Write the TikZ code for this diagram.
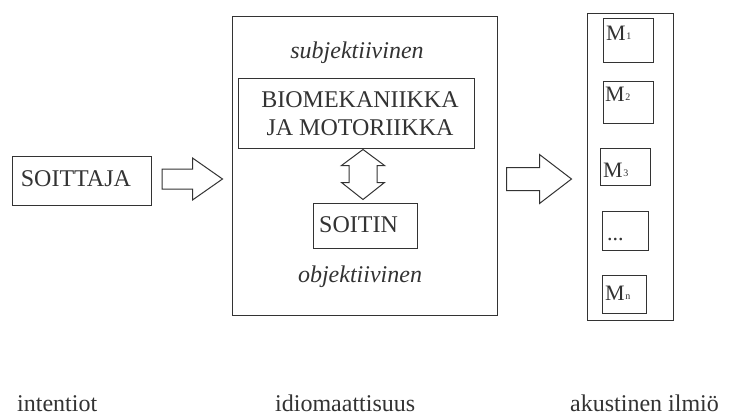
\documentclass[tikz,border=0pt]{standalone}
\usepackage{fontspec}
\setmainfont{Liberation Serif}
\usetikzlibrary{calc}
\definecolor{ink}{gray}{0.2}
\begin{document}
\begin{tikzpicture}[x=1pt,y=-1pt,
  frame/.style={draw=ink, line width=1pt, inner sep=0pt, rectangle},
  txt/.style={text=ink, inner sep=0pt, font=\fontsize{24}{28.5}\selectfont},
  itxt/.style={text=ink, inner sep=0pt, font=\fontsize{24}{28.5}\selectfont\itshape},
  mtxt/.style={text=ink, inner sep=0pt, font=\fontsize{22}{26}\selectfont, anchor=base west},
  blk/.style={draw=ink, line width=1pt, fill=white, line join=miter}]
\useasboundingbox (0,0) rectangle (732,418);
\fill[white] (0,0) rectangle (732,418);

% left
\node[frame, minimum width=139pt, minimum height=49pt] (soittaja) at (82.2,180.5) {};
\node[txt, anchor=base west] (soittajat) at (20.7,186) {SOITTAJA};

% middle
\node[frame, minimum width=265pt, minimum height=299pt] (idiom) at (364.5,165.5) {};
\node[itxt, anchor=base] (subj) at (357,58) {subjektiivinen};
\node[frame, minimum width=236pt, minimum height=70pt] (bio) at (356,113) {};
\node[txt, align=center, anchor=center] (biot) at (360,113.5) {BIOMEKANIIKKA\\JA MOTORIIKKA};
\node[frame, minimum width=104pt, minimum height=45pt] (soitin) at (365,225.5) {};
\node[txt, anchor=base west] (soitint) at (319,232) {SOITIN};
\node[itxt, anchor=base] (obj) at (360,282) {objektiivinen};

% right
\node[frame, minimum width=86pt, minimum height=307pt] (akust) at (630,166.5) {};
\node[frame, minimum width=50pt, minimum height=44pt] (m1) at (628,40) {};
\node[frame, minimum width=50pt, minimum height=42pt] (m2) at (628,102) {};
\node[frame, minimum width=50pt, minimum height=37pt] (m3) at (625,166.5) {};
\node[frame, minimum width=46pt, minimum height=39pt] (mdots) at (625,230.5) {};
\node[frame, minimum width=44pt, minimum height=38pt] (mn) at (624,294) {};
\node[mtxt] (m1t) at (606,40) {M\kern0.5pt\raisebox{1pt}{\fontsize{10}{10}\selectfont 1}};
\node[mtxt] (m2t) at (605,101) {M\kern0.5pt\raisebox{1pt}{\fontsize{10}{10}\selectfont 2}};
\node[mtxt] (m3t) at (603,177) {M\kern0.5pt\raisebox{1pt}{\fontsize{10}{10}\selectfont 3}};
\node[mtxt] (mdotst) at (607,240) {...};
\node[mtxt] (mnt) at (605,300) {M\kern0.5pt\raisebox{1pt}{\fontsize{10}{10}\selectfont n}};

% bottom labels
\node[txt, anchor=base west] (intentiot) at (17,411) {intentiot};
\node[txt, anchor=base west] (idiomaattisuus) at (275,411) {idiomaattisuus};
\node[txt, anchor=base west] (ilmio) at (570,411) {akustinen ilmiö};

% block arrow 1
\coordinate (a1s) at ($(soittaja.east)+(10,-1.5)$);
\coordinate (a1e) at ($(idiom.west)+(-9,13.5)$);
\draw[blk] ($(a1s)+(0,-10)$) -- ($(a1e)+(-30,-10)$) -- ($(a1e)+(-30,-21)$) -- (a1e)
  -- ($(a1e)+(-30,21)$) -- ($(a1e)+(-30,10)$) -- ($(a1s)+(0,10)$) -- cycle;

% block arrow 2
\coordinate (a2s) at ($(idiom.east)+(9,13.5)$);
\coordinate (a2e) at ($(akust.west)+(-15,12.5)$);
\draw[blk] ($(a2s)+(0,-11.5)$) -- ($(a2e)+(-32,-11.5)$) -- ($(a2e)+(-32,-24.5)$) -- (a2e)
  -- ($(a2e)+(-32,24.5)$) -- ($(a2e)+(-32,11.5)$) -- ($(a2s)+(0,11.5)$) -- cycle;

% double arrow
\coordinate (d1) at ($(bio.south)+(7,1)$);
\coordinate (d2) at ($(soitin.north)+(-2,-3)$);
\draw[blk] (d1) -- ($(d1)+(21.5,16)$) -- ($(d1)+(14,16)$) -- ($(d2)+(14,-17)$)
  -- ($(d2)+(21.5,-17)$) -- (d2) -- ($(d2)+(-21.5,-17)$) -- ($(d2)+(-14,-17)$)
  -- ($(d1)+(-14,16)$) -- ($(d1)+(-21.5,16)$) -- cycle;
\end{tikzpicture}
\end{document}
